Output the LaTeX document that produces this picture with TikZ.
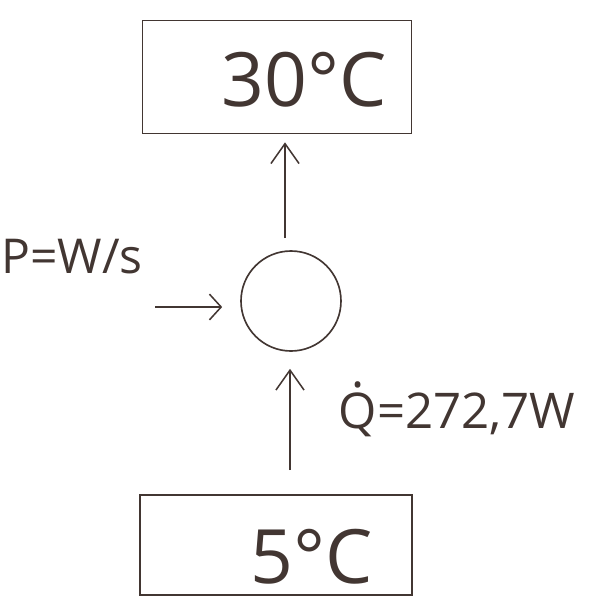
\documentclass[tikz,border=0pt]{standalone}
\usepackage{fontspec}
\setmainfont{Open Sans}
\usetikzlibrary{arrows.meta,positioning}
\definecolor{PencilInk}{RGB}{66,54,50}
\newcommand{\Qdot}{{\ooalign{Q\cr\hidewidth\raisebox{0.84em}{.}\hidewidth\cr}}}

\begin{document}
\begin{tikzpicture}[x=0.03cm,y=-0.03cm,
    >={Straight Barb[length=17pt,width=24pt,line width=1.3pt]},
    ink/.style={draw=PencilInk,line width=1.4pt},
    tempbox/.style={ink,inner sep=0pt},
    temptext/.style={text=PencilInk,inner sep=0pt,font=\fontsize{64}{64}\selectfont},
    pump/.style={ink,circle,minimum size=3cm,inner sep=0pt},
    lbl/.style={text=PencilInk,font=\fontsize{41}{41}\selectfont,inner sep=0pt}]
  \useasboundingbox (0,0) rectangle (598,604);
  \node[tempbox,minimum width=8.07cm,minimum height=3.39cm] (hot) at (277,77) {};
  \node[temptext] (hottext) at (304,80) {30°C};
  \node[pump] (cyl) at (291,301) {};
  \node[tempbox,minimum width=8.16cm,minimum height=3cm] (cold) at (276,545) {};
  \node[temptext] (coldtext) at (312,557) {5°C};
  \coordinate (feed) at (155,307);
  \coordinate (upstart) at (285,238);
  \coordinate (instart) at (290,470);
  % connectors
  \draw[ink,->,shorten >=8*0.03cm] (upstart) -- (upstart |- hot.south);
  \draw[ink,->,shorten >=17*0.03cm] (instart) -- (instart |- cyl.south);
  \draw[ink,-{Straight Barb[length=10pt,width=22pt,line width=1.3pt]},shorten >=18*0.03cm]
    (feed) -- (cyl.west |- feed);
  % labels
  \node[lbl] (power) at (72,257) {P=W/s};
  \node[lbl,font=\fontsize{42}{42}\selectfont] (heat) at (457,414) {\Qdot=272,7W};
\end{tikzpicture}
\end{document}
